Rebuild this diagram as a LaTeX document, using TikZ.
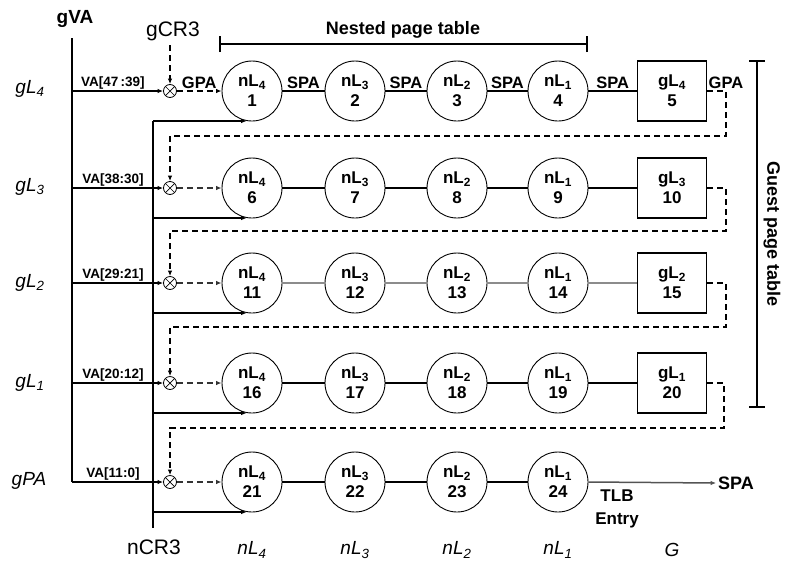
\documentclass[tikz,border=0pt]{standalone}
\usepackage{fontspec}
\setmainfont{Liberation Sans}
\usetikzlibrary{arrows.meta}
\definecolor{lgray}{RGB}{140,140,140}
\begin{document}
\begin{tikzpicture}[x=1pt,y=-1pt,
  line width=1.1pt,
  lvl/.style={circle,draw,line width=0.9pt,minimum size=60pt,inner sep=0pt,align=center,
    font=\fontsize{17}{20}\selectfont\bfseries},
  gbox/.style={rectangle,draw,line width=1.1pt,minimum width=69pt,minimum height=60pt,inner sep=0pt,align=center,
    font=\fontsize{17}{20}\selectfont\bfseries},
  ot/.style={circle,draw,line width=0.8pt,minimum size=13pt,inner sep=0pt,
    path picture={\draw[line width=0.7pt] (path picture bounding box.north west) -- (path picture bounding box.south east)
      (path picture bounding box.north east) -- (path picture bounding box.south west);}},
  arr/.style={-{Latex[length=5.5pt,width=4.5pt]}},
  dsh/.style={line width=1.3pt,dash pattern=on 6pt off 4pt},
  lbl/.style={inner sep=1.5pt,font=\fontsize{16.5}{18}\selectfont\bfseries},
  val/.style={inner sep=1pt,font=\fontsize{13.5}{15}\selectfont\bfseries},
  rowlab/.style={font=\fontsize{19}{21}\selectfont\itshape},
  big/.style={font=\fontsize{21}{24}\selectfont}]
\useasboundingbox (0,0) rectangle (794,568);

% rows
\foreach \r/\y in {1/91,2/188,3/283,4/383,5/482}{
  \pgfmathtruncatemacro\bb{5*(\r-1)}
  \node[ot] (o\r) at (170,\y) {};
  \node[lvl] (a\r) at (252,\y) {nL\textsubscript{4}\\\the\numexpr\bb+1\relax};
  \node[lvl] (b\r) at (355,\y) {nL\textsubscript{3}\\\the\numexpr\bb+2\relax};
  \node[lvl] (c\r) at (457,\y) {nL\textsubscript{2}\\\the\numexpr\bb+3\relax};
  \node[lvl] (d\r) at (558,\y) {nL\textsubscript{1}\\\the\numexpr\bb+4\relax};
}
\node[gbox] (e1) at (672,91) {gL\textsubscript{4}\\5};
\node[gbox] (e2) at (672,188) {gL\textsubscript{3}\\10};
\node[gbox] (e3) at (672,283) {gL\textsubscript{2}\\15};
\node[gbox] (e4) at (672,383) {gL\textsubscript{1}\\20};

% top labels
\node[font=\fontsize{19}{22}\selectfont\bfseries] (gva) at (75,19) {gVA};
\node[big] (gcr) at (173,31) {gCR3};
\node[big] (ncr) at (154,547) {nCR3};
\coordinate (gvatop) at (72,38);
\coordinate (ncrbot) at (153,528);
\coordinate (gcrbot) at (170,45);

% row labels
\node[rowlab] (r1) at (30,89) {gL\textsubscript{4}};
\node[rowlab] (r2) at (30,187) {gL\textsubscript{3}};
\node[rowlab] (r3) at (30,283) {gL\textsubscript{2}};
\node[rowlab] (r4) at (30,383) {gL\textsubscript{1}};
\node[rowlab] (r5) at (29,481) {gPA};

% bottom labels
\node[rowlab] (l1) at (252,550) {nL\textsubscript{4}};
\node[rowlab] (l2) at (355,550) {nL\textsubscript{3}};
\node[rowlab] (l3) at (457,550) {nL\textsubscript{2}};
\node[rowlab] (l4) at (558,550) {nL\textsubscript{1}};
\node[rowlab] (l5) at (672,550) {G};

% gVA spine and VA lines
\draw (gvatop) -- (gvatop |- o5);
\draw[arr] (o1 -| gvatop) -- node[val,above,pos=0.45] {VA[47\,:39]} (o1.west);
\draw[arr] (o2 -| gvatop) -- node[val,above,pos=0.45] {VA[38:30]} (o2.west);
\draw[arr] (o3 -| gvatop) -- node[val,above,pos=0.45] {VA[29:21]} (o3.west);
\draw[arr] (o4 -| gvatop) -- node[val,above,pos=0.45] {VA[20:12]} (o4.west);
\draw[arr] (o5 -| gvatop) -- node[val,above,pos=0.45] {VA[11:0]} (o5.west);

% nCR3 spine
\draw (a1.-100 -| ncrbot) -- (ncrbot);
\foreach \r in {1,...,5}{
  \draw[arr] (a\r.-100 -| ncrbot) -- (a\r.-100);
}

% gCR3
\draw[dsh,arr] (gcrbot) -- (o1.north);

% otimes to first circle
\draw[dsh,arr] (o1) -- node[lbl,above] {GPA} (a1);
\foreach \r in {2,...,5}{
  \draw[dsh,arr,draw=black!80] (o\r) -- (a\r);
}

% row links
\draw (a1) -- node[lbl,above] {SPA} (b1);
\draw (b1) -- node[lbl,above] {SPA} (c1);
\draw (c1) -- node[lbl,above] {SPA} (d1);
\draw (d1) -- node[lbl,above] {SPA} (e1);
\draw (a2) -- (b2) (b2) -- (c2) (c2) -- (d2) (d2) -- (e2);
\draw[lgray,line width=1.3pt] (a3) -- (b3) (b3) -- (c3) (c3) -- (d3) (d3) -- (e3);
\draw (a4) -- (b4) (b4) -- (c4) (c4) -- (d4) (d4) -- (e4);
\draw (a5) -- (b5) (b5) -- (c5) (c5) -- (d5);

% loops back
\coordinate (k1) at (726,136);
\coordinate (k2) at (726,231);
\coordinate (k3) at (726,327);
\coordinate (k4) at (724,428);
\draw[dsh,arr] (e1.east) -| node[lbl,above,pos=0.5,anchor=south] {GPA} (k1) -| (o2.north);
\draw[dsh,arr] (e2.east) -| (k2) -| (o3.north);
\draw[dsh,arr] (e3.east) -| (k3) -| (o4.north);
\draw[dsh,arr] (e4.east) -| (k4) -| (o5.north);

% TLB entry
\node[lbl,font=\fontsize{18}{20}\selectfont\bfseries] (spa) at (736,483) {SPA};
\draw[arr,lgray!60!black,line width=1.5pt] (d5.east) -- (spa.west);
\node[lbl,align=center,font=\fontsize{17}{23}\selectfont\bfseries] (tlb) at (617,509) {TLB\\Entry};

% nested page table bracket
\coordinate (np1) at (220,44);
\coordinate (np2) at (587,44);
\draw (np1) -- (np2);
\draw ([yshift=-8pt]np1) -- ([yshift=8pt]np1);
\draw ([yshift=-8pt]np2) -- ([yshift=8pt]np2);
\node[lbl,font=\fontsize{18}{20}\selectfont\bfseries] (npt) at (403,30) {Nested page table};

% guest page table bracket
\coordinate (gp1) at (757,61);
\coordinate (gp2) at (757,407);
\draw (gp1) -- (gp2);
\draw ([xshift=-8pt]gp1) -- ([xshift=8pt]gp1);
\draw ([xshift=-8pt]gp2) -- ([xshift=8pt]gp2);
\node[lbl,rotate=-90,font=\fontsize{18}{20}\selectfont\bfseries] (gpt) at (772,234) {Guest page table};
\end{tikzpicture}
\end{document}
